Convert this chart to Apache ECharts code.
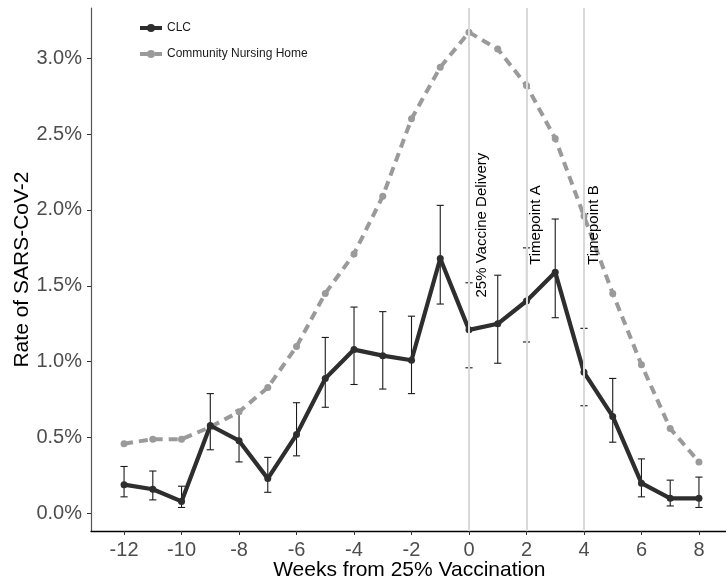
<!DOCTYPE html>
<html>
<head>
<meta charset="utf-8">
<script src="https://cdn.jsdelivr.net/npm/echarts@6/dist/echarts.min.js"></script>
<style>
html,body{margin:0;padding:0;background:#fff;}
#chart{width:726px;height:587px;}
</style>
</head>
<body>
<div id="chart"></div>
<script>
// ---- data (percent) ----
var weeks = [-12,-11,-10,-9,-8,-7,-6,-5,-4,-3,-2,-1,0,1,2,3,4,5,6,7,8];
var clcRate = [0.19,0.16,0.08,0.58,0.48,0.23,0.52,0.89,1.08,1.04,1.01,1.68,1.21,1.25,1.40,1.59,0.93,0.64,0.20,0.10,0.10];
var clcLow  = [0.11,0.09,0.04,0.42,0.34,0.14,0.38,0.70,0.85,0.82,0.79,1.38,0.96,0.99,1.13,1.29,0.71,0.47,0.11,0.05,0.04];
var clcHigh = [0.31,0.28,0.18,0.79,0.68,0.37,0.73,1.16,1.36,1.33,1.30,2.03,1.52,1.57,1.75,1.94,1.22,0.89,0.36,0.22,0.24];
var cnhRate = [0.46,0.49,0.49,0.57,0.67,0.83,1.10,1.45,1.71,2.09,2.60,2.94,3.17,3.06,2.82,2.47,1.96,1.45,0.98,0.56,0.34];
var xTicks = [-12,-10,-8,-6,-4,-2,0,2,4,6,8];
var yTicks = [0,0.5,1.0,1.5,2.0,2.5,3.0];
var eventWeeks = [0,2,4];
var eventLabels = ['25% Vaccine Delivery','Timepoint A','Timepoint B'];
var eventLabelX = [0.44,2.32,4.34];
var eventLabelY = [1.9,1.9,1.9];

var FONT = '"Liberation Sans", Arial, sans-serif';

var chart = echarts.init(document.getElementById('chart'), null, {renderer:'canvas'});

var clcData = weeks.map(function(w,i){return [w, clcRate[i]];});
var cnhData = weeks.map(function(w,i){return [w, cnhRate[i]];});
var errData = weeks.map(function(w,i){return [w, clcLow[i], clcHigh[i]];});
var annData = eventLabelX.map(function(x,i){return [x, eventLabelY[i]];});

var option = {
  animation:false,
  backgroundColor:'#fff',
  grid:{left:91, top:8, width:636.7, height:523, containLabel:false, outerBoundsMode:'none'},
  legend:{
    data:['CLC','Community Nursing Home'],
    orient:'vertical',
    left:133, top:17,
    itemWidth:22, itemHeight:10, itemGap:14,
    lineStyle:{width:4},
    textStyle:{fontFamily:FONT, fontSize:12, color:'#1a1a1a'}
  },
  xAxis:{
    type:'value', min:-13.15, max:9,
    name:'Weeks from 25% Vaccination', nameLocation:'middle', nameGap:29, nameMoveOverlap:false,
    nameTextStyle:{fontFamily:FONT, fontSize:21, color:'#000'},
    axisLine:{show:true, onZero:false, lineStyle:{color:'#000', width:1.3}},
    axisTick:{show:true, length:4, lineStyle:{color:'#333'}, customValues:xTicks},
    axisLabel:{customValues:xTicks, margin:9, fontFamily:FONT, fontSize:20, color:'#4d4d4d'},
    splitLine:{show:false}
  },
  yAxis:{
    type:'value', min:-0.115, max:3.33,
    name:'Rate of SARS-CoV-2', nameLocation:'middle', nameGap:58, nameMoveOverlap:false,
    nameTextStyle:{fontFamily:FONT, fontSize:21, color:'#000'},
    axisLine:{show:true, onZero:false, lineStyle:{color:'#555', width:1.2}},
    axisTick:{show:true, length:4, lineStyle:{color:'#333'}, customValues:yTicks},
    axisLabel:{customValues:yTicks, margin:9, fontFamily:FONT, fontSize:20, color:'#4d4d4d',
      formatter:function(v){return v.toFixed(1)+'%';}},
    splitLine:{show:false}
  },
  series:[
    {
      name:'errorbars', type:'custom', z:1, silent:true,
      data:errData,
      renderItem:function(params, api){
        var x = api.value(0), lo = api.value(1), hi = api.value(2);
        var pLo = api.coord([x, lo]), pHi = api.coord([x, hi]);
        var hw = 3.6;
        var st = {stroke:'#1a1a1a', lineWidth:1.1};
        return {type:'group', children:[
          {type:'line', shape:{x1:pLo[0], y1:pLo[1], x2:pHi[0], y2:pHi[1]}, style:st},
          {type:'line', shape:{x1:pLo[0]-hw, y1:pLo[1], x2:pLo[0]+hw, y2:pLo[1]}, style:st},
          {type:'line', shape:{x1:pHi[0]-hw, y1:pHi[1], x2:pHi[0]+hw, y2:pHi[1]}, style:st}
        ]};
      }
    },
    {
      name:'events', type:'line', z:2, data:[], silent:true,
      markLine:{
        silent:true, symbol:['none','none'], label:{show:false},
        lineStyle:{color:'#d9d9d9', width:2, type:'solid', opacity:1},
        data:eventWeeks.map(function(w){return {xAxis:w};})
      }
    },
    {
      name:'Community Nursing Home', type:'line', z:3,
      data:cnhData,
      color:'#9a9a9a',
      symbol:'circle', symbolSize:7,
      lineStyle:{color:'#9a9a9a', width:4, type:[9,6]},
      itemStyle:{color:'#9a9a9a'}
    },
    {
      name:'CLC', type:'line', z:4,
      data:clcData,
      color:'#2e2e2e',
      symbol:'circle', symbolSize:7,
      lineStyle:{color:'#2e2e2e', width:4.2},
      itemStyle:{color:'#2e2e2e'}
    },
    {
      name:'annotations', type:'custom', z:5, silent:true,
      data:annData,
      renderItem:function(params, api){
        var p = api.coord([api.value(0), api.value(1)]);
        return {type:'text', x:p[0], y:p[1], rotation:Math.PI/2,
          style:{text:eventLabels[params.dataIndex], align:'center', verticalAlign:'middle',
            font:'15px ' + FONT, fill:'#000'}};
      }
    }
  ]
};
chart.setOption(option);
</script>
</body>
</html>
